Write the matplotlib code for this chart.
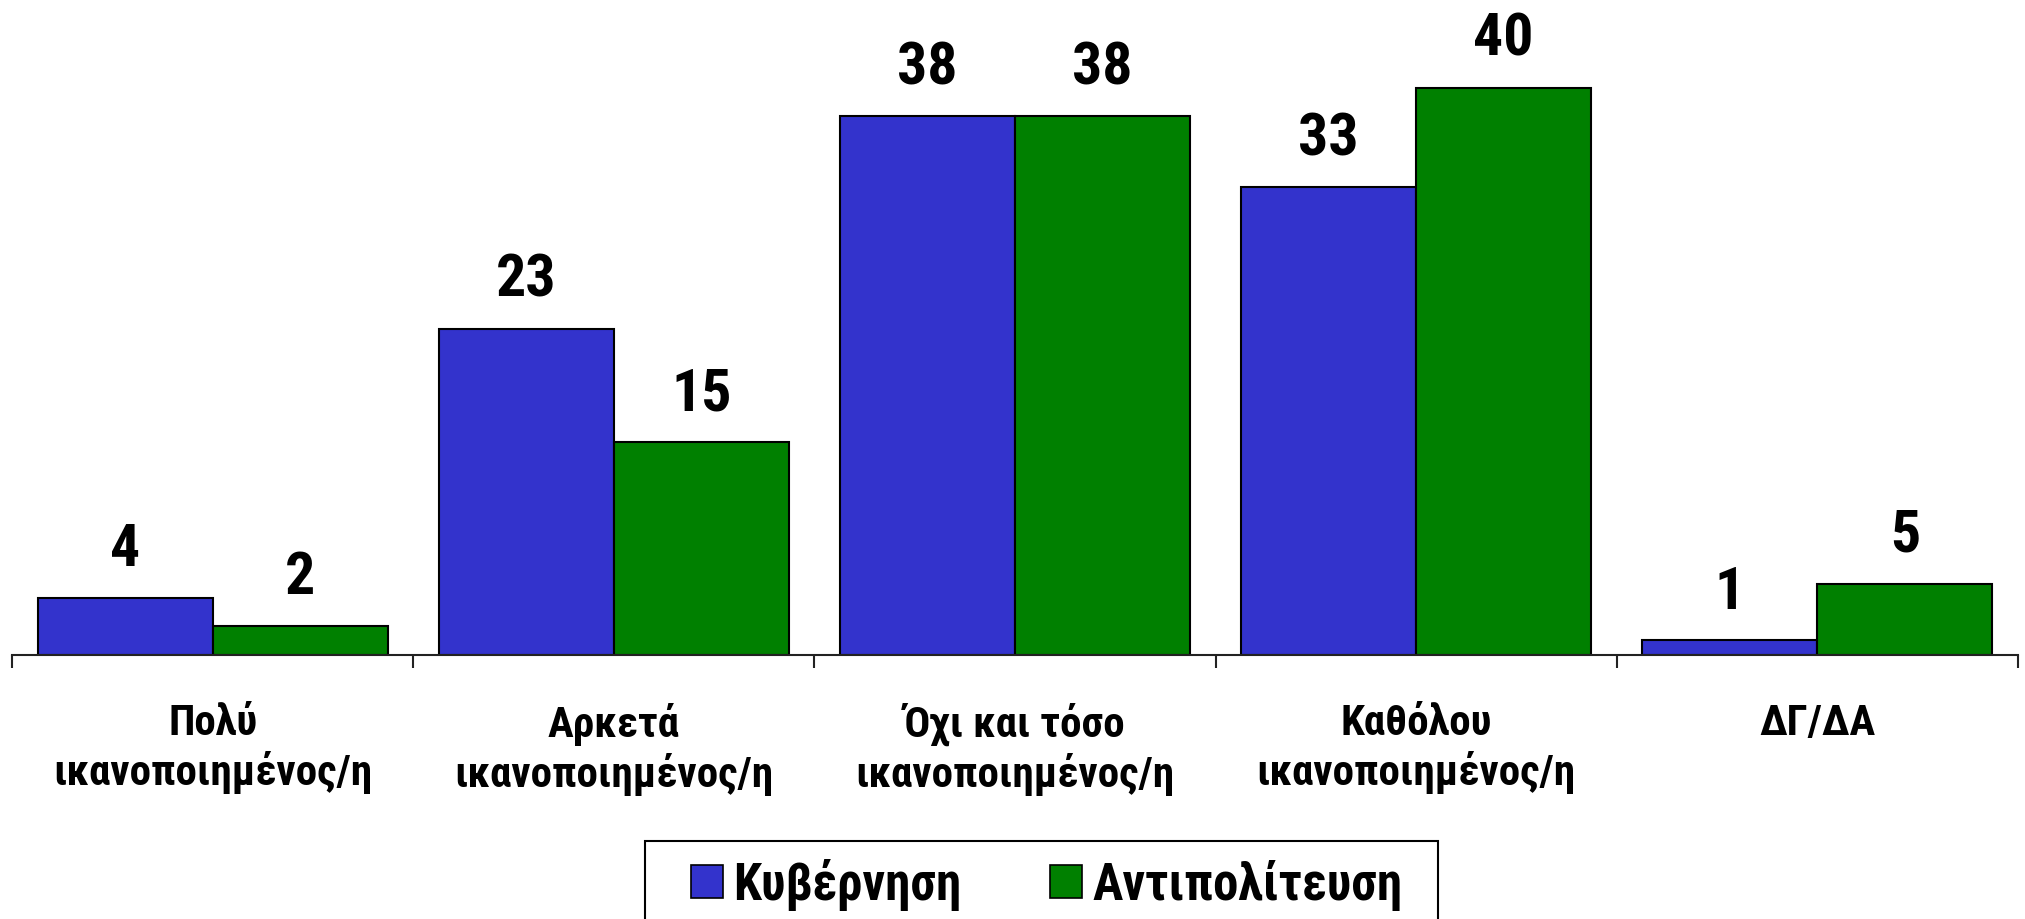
import numpy as np
import matplotlib
matplotlib.use('Agg')
import matplotlib.pyplot as plt
from matplotlib.patches import Patch, Rectangle

plt.rcParams['font.family'] = ['Liberation Sans Narrow', 'Roboto Condensed', 'DejaVu Sans Condensed',
                               'Roboto', 'DejaVu Sans']
plt.rcParams['font.weight'] = 'bold'

# Δεδομένα
categories = ['Πολύ\nικανοποιημένος/η', 'Αρκετά\nικανοποιημένος/η',
              'Όχι και τόσο\nικανοποιημένος/η', 'Καθόλου\nικανοποιημένος/η', 'ΔΓ/ΔΑ']
kyvernisi = [4, 23, 38, 33, 1]
antipoliteusi = [2, 15, 38, 40, 5]
series_names = ['Κυβέρνηση', 'Αντιπολίτευση']

blue = '#3333CC'
green = '#008000'

W, H = 2025, 920
fig = plt.figure(figsize=(W / 100, H / 100), dpi=100)
ax = fig.add_axes([12 / W, 264.4 / H, 2006 / W, 45 * 14.17 / H])

x = np.arange(len(categories))
w = 0.4364

b1 = ax.bar(x - w / 2, kyvernisi, w, color=blue, edgecolor='black', linewidth=1.5)
b2 = ax.bar(x + w / 2, antipoliteusi, w, color=green, edgecolor='black', linewidth=1.5)

# Τιμές πάνω από τις μπάρες
for bars, vals in ((b1, kyvernisi), (b2, antipoliteusi)):
    for rect, v in zip(bars, vals):
        ax.annotate(str(v), (rect.get_x() + rect.get_width() / 2, v),
                    xytext=(0, 15), textcoords='offset points',
                    ha='center', va='bottom', fontsize=43, fontweight='bold')

ax.set_xlim(-0.5, len(categories) - 0.5)
ax.set_ylim(0, 45)

for s in ['top', 'right', 'left']:
    ax.spines[s].set_visible(False)
ax.spines['bottom'].set_linewidth(1.5)
ax.spines['bottom'].set_color('#222222')
ax.set_yticks([])

ax.set_xticks(x)
ax.set_xticklabels(categories, fontsize=31, fontweight='bold', linespacing=1.2)
ax.tick_params(axis='x', which='major', length=0, pad=34)
ax.set_xticks(np.arange(-0.5, len(categories), 1), minor=True)
ax.tick_params(axis='x', which='minor', length=9.5, width=1.5, color='#222222')

# Υπόμνημα με πλαίσιο που κόβεται στο κάτω άκρο
handles = [Patch(facecolor=blue, edgecolor='black', linewidth=1.2),
           Patch(facecolor=green, edgecolor='black', linewidth=1.2)]
leg = fig.legend(handles, series_names, loc='center left', bbox_to_anchor=(691 / W, 1 - 885 / H),
                 ncol=2, fontsize=36.5, frameon=False,
                 handlelength=0.63, handleheight=0.63, handletextpad=0.2, columnspacing=1.75,
                 borderpad=0, borderaxespad=0)
for t in leg.get_texts():
    t.set_fontweight('bold')
fig.patches.append(Rectangle((645 / W, 1 - 935 / H), (1438 - 645) / W, (935 - 842) / H,
                             transform=fig.transFigure, fill=False, edgecolor='black', linewidth=1.5))

fig.savefig('out.png', dpi=100)
